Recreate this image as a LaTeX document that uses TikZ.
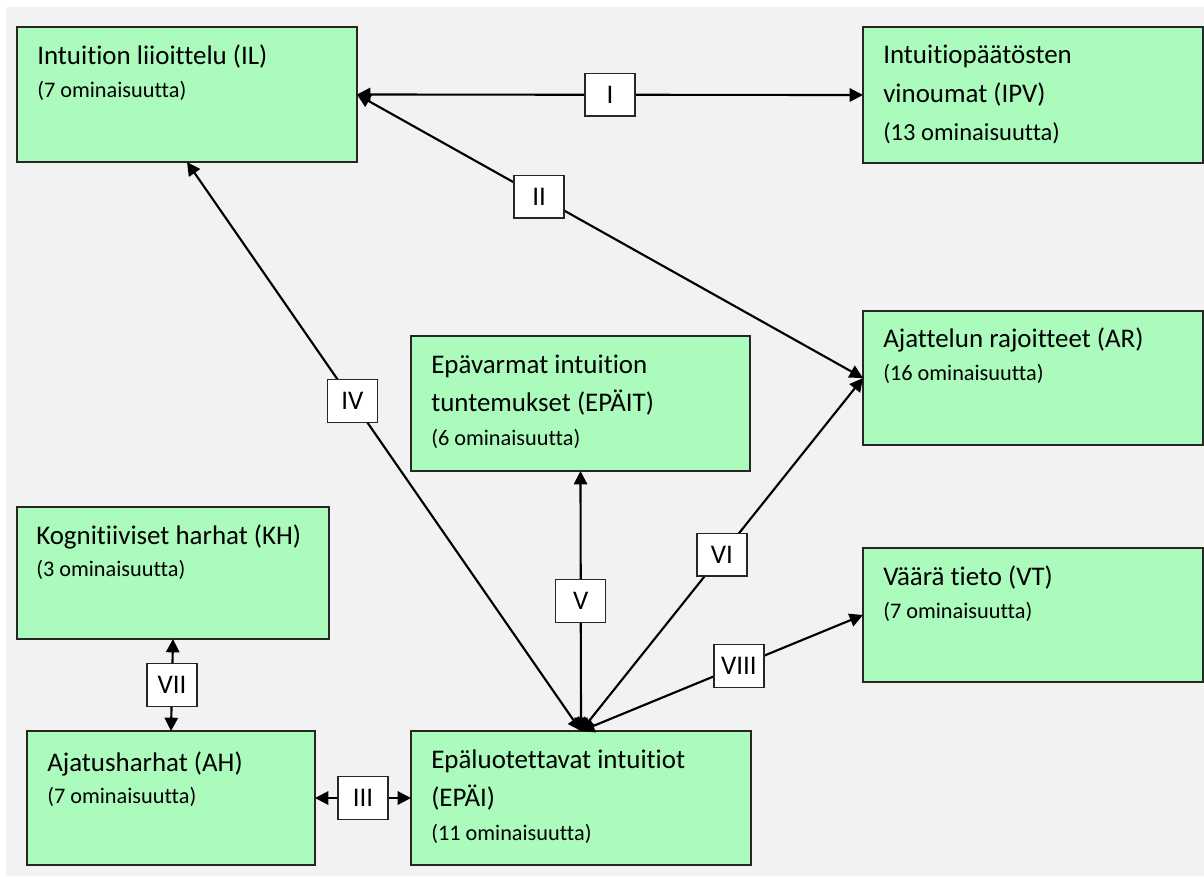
\documentclass[tikz,border=0pt]{standalone}
\usepackage{fontspec}
\setmainfont{Carlito}[Ligatures={NoCommon,NoContextual,NoRequired}]
\usetikzlibrary{arrows.meta}
\definecolor{boxgreen}{RGB}{171,251,189}
\definecolor{paper}{RGB}{242,242,242}
\tikzset{
    box/.style 2 args={draw=black!85, line width=1pt, fill=boxgreen, anchor=north west,
        minimum width=#1*0.75pt, minimum height=#2*0.75pt, inner sep=0pt, outer sep=0pt},
    title/.style={anchor=base west, inner sep=0pt, font=\fontsize{20.2}{24}\selectfont},
    count/.style={anchor=base west, inner sep=0pt, font=\fontsize{16.7}{20}\selectfont},
    num/.style={draw=black!85, fill=white, line width=1pt, minimum width=37.5pt,
        minimum height=32pt, inner sep=0pt, font=\fontsize{20.2}{24}\selectfont},
    link/.style={line width=1.6pt, >={Triangle[length=10pt, width=10pt]}, <->}
}

\begin{document}
\begin{tikzpicture}[x=0.75pt, y=-0.75pt]
    % Page and background
    \useasboundingbox (0,0) rectangle (1204,876);
    \fill[paper] (6,7) rectangle (1204,876);

    % Boxes
    \node[box={340}{135}] (IL) at (17,27) {};
    \node[box={340}{136}] (IPV) at (863,27) {};
    \node[box={340}{134}] (AR) at (863,311) {};
    \node[box={339}{135}] (EPAIT) at (411,336) {};
    \node[box={312}{132}] (KH) at (17,507) {};
    \node[box={340}{134}] (VT) at (863,548) {};
    \node[box={288}{134}] (AH) at (27,731) {};
    \node[box={340}{134}] (EPAI) at (411,731) {};

    % Texts in the boxes
    \node[title] (IL-a) at (37,64) {Intuition liioittelu (IL)};
    \node[count] (IL-b) at (37,97) {(7 ominaisuutta)};

    \node[title] (IPV-a) at (883,63) {Intuitiopäätösten};
    \node[title] (IPV-b) at (883,102) {vinoumat (IPV)};
    \node[count, font=\fontsize{18.4}{22}\selectfont] (IPV-c) at (883,140) {(13 ominaisuutta)};

    \node[title] (AR-a) at (883,347) {Ajattelun rajoitteet (AR)};
    \node[count] (AR-b) at (883,380) {(16 ominaisuutta)};

    \node[title] (EPAIT-a) at (431,373) {Epävarmat intuition};
    \node[title] (EPAIT-b) at (431,411) {tuntemukset (EPÄIT)};
    \node[count] (EPAIT-c) at (431,445) {(6 ominaisuutta)};

    \node[title] (KH-a) at (36,544) {Kognitiiviset harhat (KH)};
    \node[count] (KH-b) at (36,576) {(3 ominaisuutta)};

    \node[title] (VT-a) at (883,585) {Väärä tieto (VT)};
    \node[count] (VT-b) at (883,618) {(7 ominaisuutta)};

    \node[title] (AH-a) at (47,771) {Ajatusharhat (AH)};
    \node[count] (AH-b) at (47,803) {(7 ominaisuutta)};

    \node[title] (EPAI-a) at (431,768) {Epäluotettavat intuitiot};
    \node[title] (EPAI-b) at (431,806) {(EPÄI)};
    \node[count] (EPAI-c) at (431,840) {(11 ominaisuutta)};

    % Connectors with their numbers
    \draw[link] (IL.east) -- node[num] (nI) {I} (IPV.west);
    \draw[link] (IL.east) -- node[num, pos=0.36] (nII) {II} (AR.west);
    \draw[link] (EPAI.north) -- node[num, pos=0.58] (nIV) {IV} (IL.south);
    \draw[link] (EPAI.north) -- node[num] (nV) {V} (EPAIT.south);
    \draw[link] (EPAI.north) -- node[num] (nVI) {VI} (AR.west);
    \draw[link] (EPAI.north) -- node[num, pos=0.56] (nVIII) {VIII} (VT.west);
    \draw[link] (KH.south) -- node[num] (nVII) {VII} (AH.north);
    \draw[link] (AH.east) -- node[num] (nIII) {III} (EPAI.west);
\end{tikzpicture}
\end{document}
